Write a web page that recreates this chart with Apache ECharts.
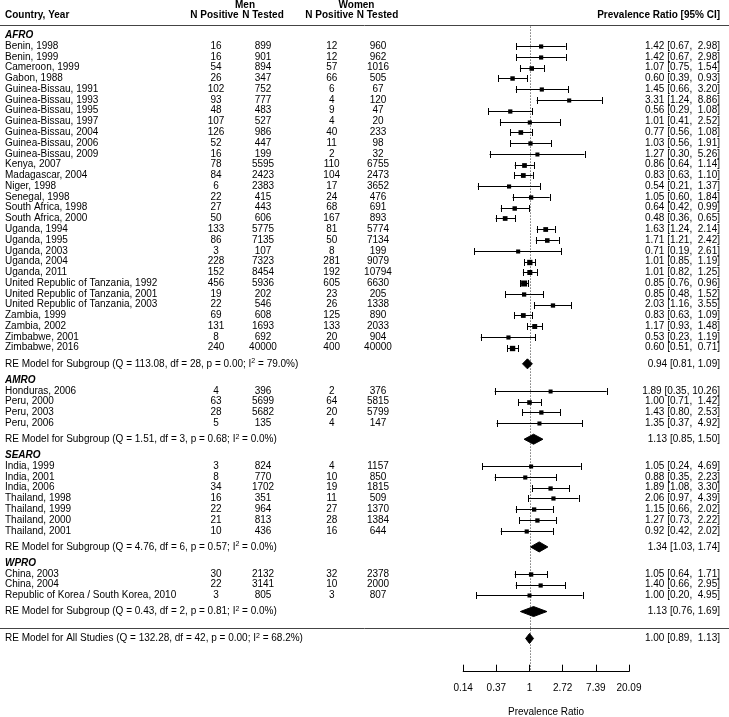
<!DOCTYPE html>
<html><head><meta charset="utf-8">
<script src="https://cdn.jsdelivr.net/npm/echarts@6/dist/echarts.min.js"></script>
<style>html,body{margin:0;padding:0;background:#fff}#c{width:729px;height:717px}</style>
</head><body><div id="c"></div>
<script>
// ---------------- data ----------------
const studyNames = [
  'Benin, 1998','Benin, 1999','Cameroon, 1999','Gabon, 1988','Guinea-Bissau, 1991','Guinea-Bissau, 1993',
  'Guinea-Bissau, 1995','Guinea-Bissau, 1997','Guinea-Bissau, 2004','Guinea-Bissau, 2006','Guinea-Bissau, 2009',
  'Kenya, 2007','Madagascar, 2004','Niger, 1998','Senegal, 1998','South Africa, 1998','South Africa, 2000',
  'Uganda, 1994','Uganda, 1995','Uganda, 2003','Uganda, 2004','Uganda, 2011',
  'United Republic of Tanzania, 1992','United Republic of Tanzania, 2001','United Republic of Tanzania, 2003',
  'Zambia, 1999','Zambia, 2002','Zimbabwe, 2001','Zimbabwe, 2016',
  'Honduras, 2006','Peru, 2000','Peru, 2003','Peru, 2006',
  'India, 1999','India, 2001','India, 2006','Thailand, 1998','Thailand, 1999','Thailand, 2000','Thailand, 2001',
  'China, 2003','China, 2004','Republic of Korea / South Korea, 2010'
];
const studyRegion = [
  'AFRO','AFRO','AFRO','AFRO','AFRO','AFRO','AFRO','AFRO','AFRO','AFRO','AFRO','AFRO','AFRO','AFRO','AFRO',
  'AFRO','AFRO','AFRO','AFRO','AFRO','AFRO','AFRO','AFRO','AFRO','AFRO','AFRO','AFRO','AFRO','AFRO',
  'AMRO','AMRO','AMRO','AMRO',
  'SEARO','SEARO','SEARO','SEARO','SEARO','SEARO','SEARO',
  'WPRO','WPRO','WPRO'
];
const menPositive = [16,16,54,26,102,93,48,107,126,52,16,78,84,6,22,27,50,133,86,3,228,152,456,19,22,69,131,8,240,
  4,63,28,5, 3,8,34,16,22,21,10, 30,22,3];
const menTested = [899,901,894,347,752,777,483,527,986,447,199,5595,2423,2383,415,443,606,5775,7135,107,7323,8454,5936,202,546,608,1693,692,40000,
  396,5699,5682,135, 824,770,1702,351,964,813,436, 2132,3141,805];
const womenPositive = [12,12,57,66,6,4,9,4,40,11,2,110,104,17,24,68,167,81,50,8,281,192,605,23,26,125,133,20,400,
  2,64,20,4, 4,10,19,11,27,28,16, 32,10,3];
const womenTested = [960,962,1016,505,67,120,47,20,233,98,32,6755,2473,3652,476,691,893,5774,7134,199,9079,10794,6630,205,1338,890,2033,904,40000,
  376,5815,5799,147, 1157,850,1815,509,1370,1384,644, 2378,2000,807];
const ratio = [1.42,1.42,1.07,0.60,1.45,3.31,0.56,1.01,0.77,1.03,1.27,0.86,0.83,0.54,1.05,0.64,0.48,1.63,1.71,0.71,1.01,1.01,0.85,0.85,2.03,0.83,1.17,0.53,0.60,
  1.89,1.00,1.43,1.35, 1.05,0.88,1.89,2.06,1.15,1.27,0.92, 1.05,1.40,1.00];
const ratioLower = [0.67,0.67,0.75,0.39,0.66,1.24,0.29,0.41,0.56,0.56,0.30,0.64,0.63,0.21,0.60,0.42,0.36,1.24,1.21,0.19,0.85,0.82,0.76,0.48,1.16,0.63,0.93,0.23,0.51,
  0.35,0.71,0.80,0.37, 0.24,0.35,1.08,0.97,0.66,0.73,0.42, 0.64,0.66,0.20];
const ratioUpper = [2.98,2.98,1.54,0.93,3.20,8.86,1.08,2.52,1.08,1.91,5.26,1.14,1.10,1.37,1.84,0.99,0.65,2.14,2.42,2.61,1.19,1.25,0.96,1.52,3.55,1.09,1.48,1.19,0.71,
  10.26,1.42,2.53,4.92, 4.69,2.23,3.30,4.39,2.02,2.22,2.02, 1.71,2.95,4.95];

const regionNames = ['AFRO','AMRO','SEARO','WPRO'];
const regionQ = [113.08,1.51,4.76,0.43];
const regionDf = [28,3,6,2];
const regionP = [0.00,0.68,0.57,0.81];
const regionI2 = [79.0,0.0,0.0,0.0];
const regionRatio = [0.94,1.13,1.34,1.13];
const regionLower = [0.81,0.85,1.03,0.76];
const regionUpper = [1.09,1.50,1.74,1.69];

const overallStats = [132.28, 42, 0.00, 68.2];   // Q, df, p, I2
const overallCI = [1.00, 0.89, 1.13];            // estimate, lower, upper

const tickLabels = ['0.14','0.37','1','2.72','7.39','20.09'];

// ---------------- layout ----------------
const W = 729, H = 717;
const LN0_PX = 529.5, PX_PER_LN = 33.15;
const ROW0_PX = 627.7, PX_PER_ROW = 10.77;
const AXIS_PX = 671.7;
const xMin = -LN0_PX / PX_PER_LN, xMax = (W - LN0_PX) / PX_PER_LN;
const yMax = ROW0_PX / PX_PER_ROW, yMin = (ROW0_PX - H) / PX_PER_ROW;
const AXIS_ROW = (ROW0_PX - AXIS_PX) / PX_PER_ROW;
const X = px => (px - LN0_PX) / PX_PER_LN;
const FONT = '"Liberation Sans", Arial, Helvetica, sans-serif';

const colName = X(5), colMP = X(216), colMT = X(263), colWP = X(331.7), colWT = X(378), colCI = X(720);

// rows (metafor-like)
const rows = new Array(studyNames.length);
const headRow = [], sumRow = [];
let r = 0;
for (let g = regionNames.length - 1; g >= 0; g--) {
  const idx = [];
  studyRegion.forEach((rg, i) => { if (rg === regionNames[g]) idx.push(i); });
  const m = idx.length;
  sumRow[g] = r + 1.5;
  idx.forEach((i, j) => { rows[i] = r + 2 + m - j; });
  headRow[g] = r + 3 + m;
  r = r + 3 + m;
}
const topLineRow = r + 1, colHeadRow = r + 1.85, sexHeadRow = r + 2.75;

const f2 = v => v.toFixed(2);
const ciText = (e, l, u, pad) => f2(e) + ' [' + f2(l) + ', ' + (pad ? f2(u).padStart(5, ' ') : f2(u)) + ']';

// text items
const texts = [];
const T = (x, y, text, align, weight, style, rich) => texts.push({x, y, text, align, weight: weight || 'normal', style: style || 'normal', rich});
T(colName, colHeadRow, 'Country, Year', 'left', 'bold');
T(X(214.5), colHeadRow, 'N Positive', 'center', 'bold');
T(X(263), colHeadRow, 'N Tested', 'center', 'bold');
T(X(329.5), colHeadRow, 'N Positive', 'center', 'bold');
T(X(377.5), colHeadRow, 'N Tested', 'center', 'bold');
T(colCI, colHeadRow, 'Prevalence Ratio [95% CI]', 'right', 'bold');
T(X(245), sexHeadRow, 'Men', 'center', 'bold');
T(X(356.5), sexHeadRow, 'Women', 'center', 'bold');
regionNames.forEach((g, k) => {
  T(colName, headRow[k], g, 'left', 'bold', 'italic');
  const s = '{n|RE Model for Subgroup (Q = ' + regionQ[k].toFixed(2) + ', df = ' + regionDf[k] + ', p = ' + f2(regionP[k]) +
    '; I}{s|2}{n| = ' + regionI2[k].toFixed(1) + '%)}';
  T(colName, sumRow[k], s, 'left', 'normal', 'normal', true);
  T(colCI, sumRow[k], ciText(regionRatio[k], regionLower[k], regionUpper[k], false), 'right');
});
studyNames.forEach((nm, i) => {
  T(colName, rows[i], nm, 'left');
  T(colMP, rows[i], String(menPositive[i]), 'center');
  T(colMT, rows[i], String(menTested[i]), 'center');
  T(colWP, rows[i], String(womenPositive[i]), 'center');
  T(colWT, rows[i], String(womenTested[i]), 'center');
  T(colCI, rows[i], ciText(ratio[i], ratioLower[i], ratioUpper[i], true), 'right');
});
T(colName, -1, '{n|RE Model for All Studies (Q = ' + overallStats[0].toFixed(2) + ', df = ' + overallStats[1] + ', p = ' +
  f2(overallStats[2]) + '; I}{s|2}{n| = ' + overallStats[3].toFixed(1) + '%)}', 'left', 'normal', 'normal', true);
T(colCI, -1, ciText(overallCI[0], overallCI[1], overallCI[2], true), 'right');

// square sizes from precision
const wts = ratio.map((_, i) => 3.92 / (Math.log(ratioUpper[i]) - Math.log(ratioLower[i])));
const wMin = Math.min(...wts), wMax = Math.max(...wts);
const studyData = ratio.map((e, i) => [Math.log(e), Math.log(ratioLower[i]), Math.log(ratioUpper[i]), rows[i],
  4 + 2 * (wts[i] - wMin) / (wMax - wMin)]);
const diamondData = regionRatio.map((e, k) => [Math.log(e), Math.log(regionLower[k]), Math.log(regionUpper[k]), sumRow[k]]);
diamondData.push([Math.log(overallCI[0]), Math.log(overallCI[1]), Math.log(overallCI[2]), -1]);

const richStyle = {
  n: {fontSize: 10, fontFamily: FONT, fill: '#000', lineHeight: 12},
  s: {fontSize: 7, fontFamily: FONT, fill: '#000', verticalAlign: 'top', lineHeight: 12}
};

const chart = echarts.init(document.getElementById('c'), null, {renderer: 'canvas'});
chart.setOption({
  animation: false,
  backgroundColor: '#fff',
  grid: [
    {left: 0, right: 0, top: 0, bottom: 0, outerBoundsMode: 'none'},
    {left: LN0_PX - 2 * PX_PER_LN, right: W - (LN0_PX + 3 * PX_PER_LN), bottom: H - AXIS_PX, height: 10, outerBoundsMode: 'none'}
  ],
  xAxis: [
    {gridIndex: 0, type: 'value', min: xMin, max: xMax, show: false},
    {gridIndex: 1, type: 'value', min: -2, max: 3, interval: 1,
     axisLine: {show: true, lineStyle: {color: '#000', width: 1}},
     axisTick: {show: true, inside: true, length: 7, lineStyle: {color: '#000', width: 1}},
     axisLabel: {show: true, formatter: v => tickLabels[Math.round(v + 2)], fontSize: 10, color: '#000', margin: 12, fontFamily: FONT, showMinLabel: true, showMaxLabel: true},
     splitLine: {show: false},
     name: 'Prevalence Ratio', nameLocation: 'middle', nameGap: 36,
     nameTextStyle: {fontSize: 10, color: '#000', fontFamily: FONT}}
  ],
  yAxis: [
    {gridIndex: 0, type: 'value', min: yMin, max: yMax, show: false},
    {gridIndex: 1, type: 'value', min: 0, max: 1, show: false}
  ],
  series: [
    { // horizontal separator lines
      type: 'custom', xAxisIndex: 0, yAxisIndex: 0, silent: true,
      data: [[0, topLineRow], [0, 0]],
      renderItem: (params, api) => {
        const p = api.coord([api.value(0), api.value(1)]);
        const y = Math.round(p[1]) + 0.5;
        return {type: 'line', shape: {x1: params.coordSys.x, y1: y, x2: params.coordSys.x + params.coordSys.width, y2: y},
          style: {stroke: '#444', lineWidth: 1}};
      }
    },
    { // reference line
      type: 'custom', xAxisIndex: 0, yAxisIndex: 0, silent: true,
      data: [[0, topLineRow, AXIS_ROW]],
      renderItem: (params, api) => {
        const a = api.coord([api.value(0), api.value(1)]);
        const b = api.coord([api.value(0), api.value(2)]);
        const x = Math.round(a[0]) + 0.5;
        return {type: 'line', shape: {x1: x, y1: a[1] + 2, x2: x, y2: b[1]},
          style: {stroke: '#333', lineWidth: 1, lineDash: [1, 2]}};
      }
    },
    { // studies
      type: 'custom', xAxisIndex: 0, yAxisIndex: 0, silent: true,
      data: studyData,
      renderItem: (params, api) => {
        const e = api.coord([api.value(0), api.value(3)]);
        const l = api.coord([api.value(1), api.value(3)]);
        const h = api.coord([api.value(2), api.value(3)]);
        const s = api.value(4);
        const y = Math.round(e[1]) + 0.5;
        const st = {stroke: '#000', lineWidth: 1};
        return {type: 'group', children: [
          {type: 'line', shape: {x1: l[0], y1: y, x2: h[0], y2: y}, style: st},
          {type: 'line', shape: {x1: Math.round(l[0]) + 0.5, y1: y - 3.5, x2: Math.round(l[0]) + 0.5, y2: y + 3.5}, style: st},
          {type: 'line', shape: {x1: Math.round(h[0]) + 0.5, y1: y - 3.5, x2: Math.round(h[0]) + 0.5, y2: y + 3.5}, style: st},
          {type: 'rect', shape: {x: e[0] - s / 2, y: y - s / 2, width: s, height: s}, style: {fill: '#000'}}
        ]};
      }
    },
    { // summary diamonds
      type: 'custom', xAxisIndex: 0, yAxisIndex: 0, silent: true,
      data: diamondData,
      renderItem: (params, api) => {
        const e = api.coord([api.value(0), api.value(3)]);
        const l = api.coord([api.value(1), api.value(3)]);
        const h = api.coord([api.value(2), api.value(3)]);
        const hh = 5;
        return {type: 'polygon', shape: {points: [[l[0], e[1]], [e[0], e[1] - hh], [h[0], e[1]], [e[0], e[1] + hh]]},
          style: {fill: '#000', stroke: '#000', lineWidth: 1}};
      }
    },
    { // texts
      type: 'custom', xAxisIndex: 0, yAxisIndex: 0, silent: true,
      data: texts.map((t, i) => [t.x, t.y, i]),
      renderItem: (params, api) => {
        const t = texts[api.value(2)];
        const p = api.coord([api.value(0), api.value(1)]);
        const style = {
          text: t.text, fill: '#000', fontSize: 10, fontFamily: FONT, fontWeight: t.weight, fontStyle: t.style,
          align: t.align, verticalAlign: 'middle', textAlign: t.align, textVerticalAlign: 'middle'
        };
        if (t.rich) style.rich = richStyle;
        return {type: 'text', x: p[0], y: p[1], style};
      }
    }
  ]
});
</script>
</body></html>
